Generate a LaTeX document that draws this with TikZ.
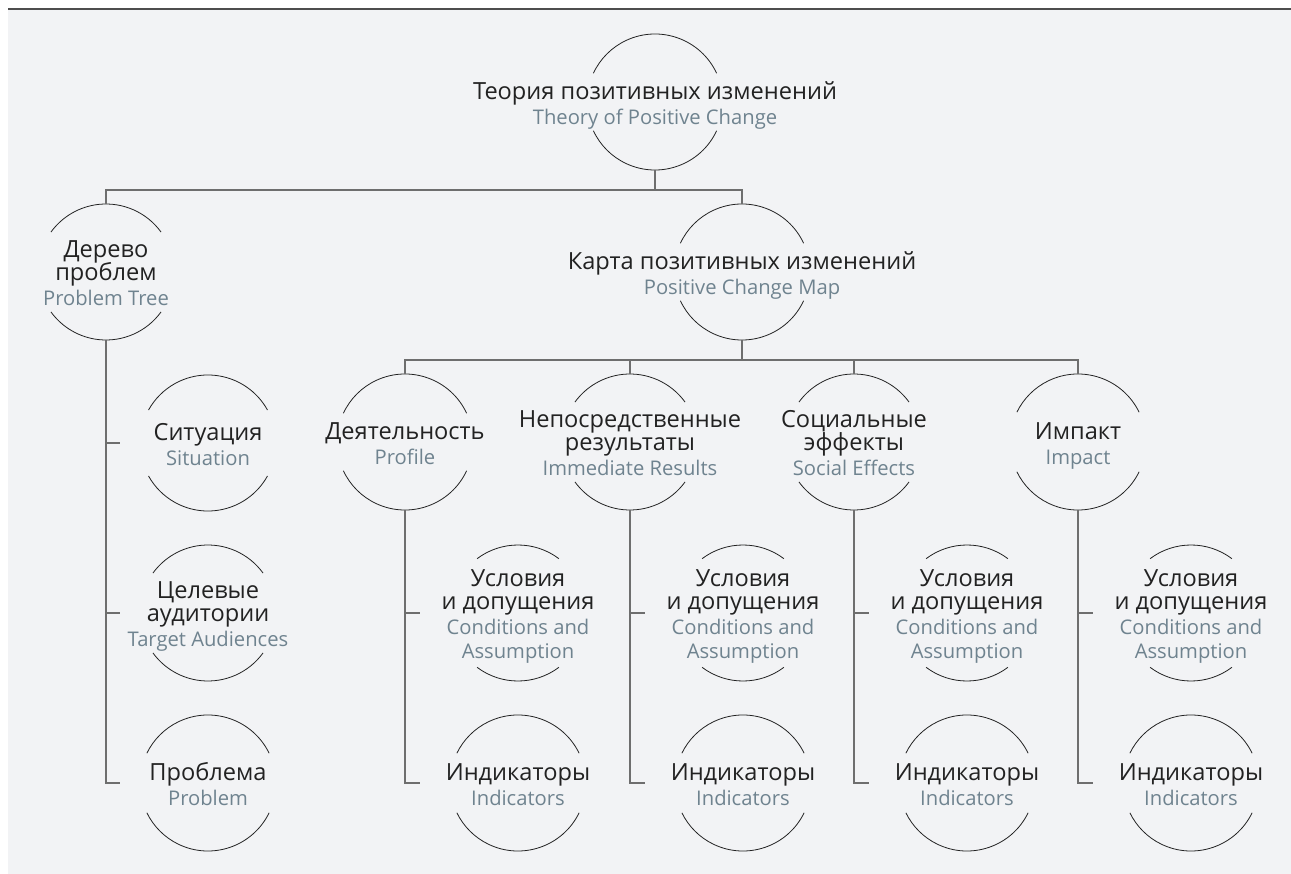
\documentclass[tikz,border=0pt]{standalone}
\usepackage{fontspec}
\setmainfont{Open Sans}
\usepackage{tikz}

\definecolor{panel}{HTML}{F2F3F5}
\definecolor{ink}{HTML}{222222}
\definecolor{slate}{HTML}{6F838F}
\definecolor{wire}{HTML}{6E6E6E}

\newcommand{\rufont}{\fontsize{23.6}{23}\selectfont\lineskiplimit=-100pt\relax}
\newcommand{\en}{\fontsize{20.2}{24}\selectfont\color{slate}\strut}

\tikzset{
  ring/.style={shape=circle, minimum size=136pt, inner sep=0pt, outer sep=0pt},
  caption/.style={align=center, inner sep=0pt, yshift=-5pt, text=ink, font=\rufont},
  link/.style={draw=wire, line width=1.2pt},
  arcline/.style={draw=ink, line width=0.8pt}
}

\begin{document}
\begin{tikzpicture}[x=1pt, y=1pt]
\useasboundingbox (0,0) rectangle (1291,-874);
\fill[panel] (8,-9) rectangle (1291,-874);
\draw[draw=wire!70!black, line width=1.5pt] (8,-9) -- (1291,-9);

% rings
\node[ring] (theory) at (655,-102) {};
\node[ring] (tree) at (106,-272) {};
\node[ring] (map) at (742,-272) {};
\node[ring] (sit) at (208,-443) {};
\node[ring] (aud) at (208,-613) {};
\node[ring] (prob) at (208,-783) {};
\node[ring] (act) at (405,-442) {};
\node[ring] (res) at (630,-442) {};
\node[ring] (soc) at (854,-442) {};
\node[ring] (imp) at (1078,-442) {};
\foreach \i/\x in {1/518, 2/743, 3/967, 4/1191} {
  \node[ring] (cond\i) at (\x,-613) {};
  \node[ring] (ind\i) at (\x,-783) {};
  \node[caption] (cond\i-t) at (cond\i) {Условия\\и допущения\\[2pt]\en Conditions and\\[1pt]\en Assumption};
  \node[caption] (ind\i-t) at (ind\i) {Индикаторы\\[2pt]\en Indicators};
}

% captions
\node[caption] (theory-t) at (theory) {Теория позитивных изменений\\[2pt]\en Theory of Positive Change};
\node[caption] (tree-t) at (tree) {Дерево\\проблем\\[2pt]\en Problem Tree};
\node[caption] (map-t) at (map) {Карта позитивных изменений\\[2pt]\en Positive Change Map};
\node[caption] (sit-t) at (sit) {Ситуация\\[2pt]\en Situation};
\node[caption] (aud-t) at (aud) {Целевые\\аудитории\\[2pt]\en Target Audiences};
\node[caption] (prob-t) at (prob) {Проблема\\[2pt]\en Problem};
\node[caption] (act-t) at (act) {Деятельность\\[2pt]\en Profile};
\node[caption] (res-t) at (res) {Непосредственные\\результаты\\[2pt]\en Immediate Results};
\node[caption] (soc-t) at (soc) {Социальные\\эффекты\\[2pt]\en Social Effects};
\node[caption] (imp-t) at (imp) {Импакт\\[2pt]\en Impact};

% open arcs above and below each caption
\foreach \n/\g in {theory/25, tree/36, map/25, sit/29, aud/36, prob/26, act/25, res/36, soc/36, imp/26,
                   cond1/53, cond2/53, cond3/53, cond4/53, ind1/26, ind2/26, ind3/26, ind4/26} {
  \draw[arcline] (\n.\g) arc[start angle=\g, end angle=180-\g, radius=68pt];
  \draw[arcline] (\n.-\g) arc[start angle=-\g, end angle=\g-180, radius=68pt];
}

% links
\coordinate (top-bar) at (655,-190);
\coordinate (map-bar) at (742,-360);
\draw[link] (theory.south) -- (top-bar);
\draw[link] (tree.north) -- (tree.north |- top-bar) -- (map.north |- top-bar) -- (map.north);
\draw[link] (map.south) -- (map-bar);
\draw[link] (act.north) -- (act.north |- map-bar) -- (imp.north |- map-bar) -- (imp.north);
\draw[link] (res.north) -- (res.north |- map-bar);
\draw[link] (soc.north) -- (soc.north |- map-bar);

\draw[link] (tree.south) -- (tree.south |- prob) -- ([xshift=-20pt]prob.west);
\draw[link] (tree.south |- sit) -- ([xshift=-20pt]sit.west);
\draw[link] (tree.south |- aud) -- ([xshift=-20pt]aud.west);

\foreach \c/\i in {act/1, res/2, soc/3, imp/4} {
  \draw[link] (\c.south) -- (\c.south |- ind\i) -- ([xshift=-30pt]ind\i.west);
  \draw[link] (\c.south |- cond\i) -- ([xshift=-30pt]cond\i.west);
}
\end{tikzpicture}
\end{document}
